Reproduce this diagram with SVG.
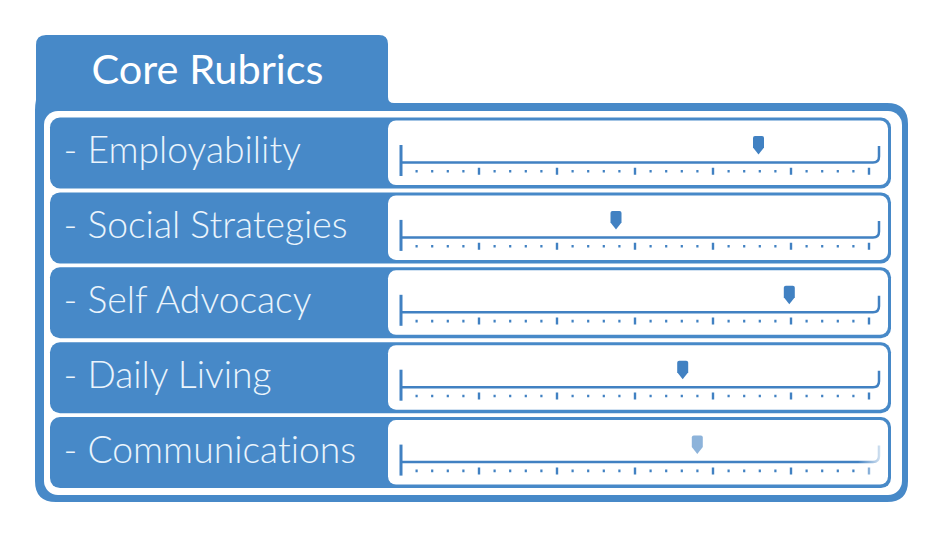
<svg xmlns="http://www.w3.org/2000/svg" xmlns:xlink="http://www.w3.org/1999/xlink" width="941" height="538" viewBox="0 0 941 538">
<style>
.blue{fill:#4789c8}
.panel{fill:#ffffff}
.title{font-family:Lato,"Open Sans","Liberation Sans",sans-serif;font-size:41.5px;fill:#ffffff}
.label{font-family:Lato,"Open Sans","Liberation Sans",sans-serif;font-weight:300;font-size:37.3px;fill:#eaf4fc;font-variant-ligatures:none}
.bar{stroke:#4181c2;fill:none}
.marker{fill:#4181c2}
</style>
<defs>
<g id="scale">
<path class="bar" stroke-width="3" d="M401,27.5V58.5"/>
<path class="bar" stroke-width="2.5" d="M401,45H873Q879,45 879,39V28.5"/>
<path class="bar" stroke-width="2.2" d="M416.6,52.5v2.6M432.2,52.5v2.6M447.8,52.5v2.6M463.4,52.5v2.6M494.6,52.5v2.6M510.2,52.5v2.6M525.8,52.5v2.6M541.4,52.5v2.6M572.6,52.5v2.6M588.2,52.5v2.6M603.8,52.5v2.6M619.4,52.5v2.6M650.6,52.5v2.6M666.2,52.5v2.6M681.8,52.5v2.6M697.4,52.5v2.6M728.6,52.5v2.6M744.2,52.5v2.6M759.8,52.5v2.6M775.4,52.5v2.6M806.6,52.5v2.6M822.2,52.5v2.6M837.8,52.5v2.6M853.4,52.5v2.6"/>
<path class="bar" stroke-width="2.4" d="M479,50.3v7M557,50.3v7M635,50.3v7M713,50.3v7M791,50.3v7M869,50.3v7"/>
</g>
<linearGradient id="fade" x1="0" y1="0" x2="1" y2="0">
<stop offset="0" stop-color="#ffffff" stop-opacity="0"/>
<stop offset="1" stop-color="#ffffff" stop-opacity="0.9"/>
</linearGradient>
</defs>

<g id="frame">
<path class="blue" d="M36,45Q36,35 46,35H379Q388,35 388,44V97Q388,103 394,103H887Q908,103 908,124V481Q908,502 887,502H56Q35,502 35,481V110Q35,105 36,100Z"/>
<rect x="44" y="111" width="858" height="384" rx="14" fill="#ffffff"/>
<text class="title" x="91.5" y="83.5">Core Rubrics</text>
</g>

<g id="row-employability" transform="translate(0,117.5)">
<rect class="blue" x="50" y="0" width="841" height="71" rx="10"/>
<rect class="panel" x="388" y="3" width="500" height="64.5" rx="8"/>
<text class="label" x="63.5" y="45.5">- Employability</text>
<use xlink:href="#scale"/>
<path class="marker" d="M753,20.5Q753,18.5 755,18.5H762Q764,18.5 764,20.5V30L758.5,37L753,30Z"/>
</g>

<g id="row-social" transform="translate(0,192.4)">
<rect class="blue" x="50" y="0" width="841" height="71" rx="10"/>
<rect class="panel" x="388" y="3" width="500" height="64.5" rx="8"/>
<text class="label" x="63.5" y="45.5">- Social Strategies</text>
<use xlink:href="#scale"/>
<path class="marker" d="M610.5,20.5Q610.5,18.5 612.5,18.5H619.5Q621.5,18.5 621.5,20.5V30L616,37L610.5,30Z"/>
</g>

<g id="row-self" transform="translate(0,267.3)">
<rect class="blue" x="50" y="0" width="841" height="71" rx="10"/>
<rect class="panel" x="388" y="3" width="500" height="64.5" rx="8"/>
<text class="label" x="63.5" y="45.5">- Self Advocacy</text>
<use xlink:href="#scale"/>
<path class="marker" d="M783.8,20.5Q783.8,18.5 785.8,18.5H792.8Q794.8,18.5 794.8,20.5V30L789.3,37L783.8,30Z"/>
</g>

<g id="row-daily" transform="translate(0,342.2)">
<rect class="blue" x="50" y="0" width="841" height="71" rx="10"/>
<rect class="panel" x="388" y="3" width="500" height="64.5" rx="8"/>
<text class="label" x="63.5" y="45.5">- Daily Living</text>
<use xlink:href="#scale"/>
<path class="marker" d="M677.2,20.5Q677.2,18.5 679.2,18.5H686.2Q688.2,18.5 688.2,20.5V30L682.7,37L677.2,30Z"/>
</g>

<g id="row-communications" transform="translate(0,417.1)">
<rect class="blue" x="50" y="0" width="841" height="71" rx="10"/>
<rect class="panel" x="388" y="3" width="500" height="64.5" rx="8"/>
<text class="label" x="63.5" y="45.5">- Communications</text>
<use xlink:href="#scale"/>
<rect x="858" y="24" width="26" height="36" fill="url(#fade)"/>
<path class="marker" fill-opacity="0.6" d="M691.8,20.5Q691.8,18.5 693.8,18.5H700.8Q702.8,18.5 702.8,20.5V30L697.3,37L691.8,30Z"/>
</g>
</svg>
